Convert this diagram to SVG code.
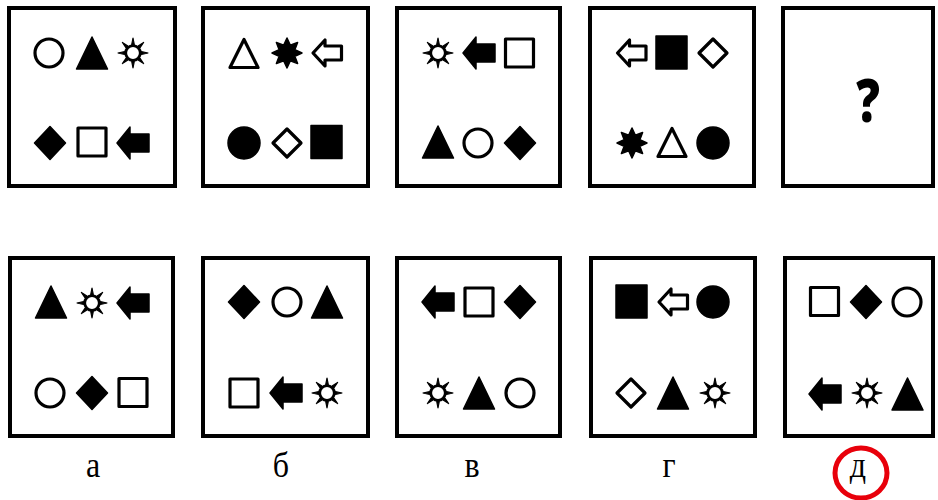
<svg xmlns="http://www.w3.org/2000/svg" xmlns:xlink="http://www.w3.org/1999/xlink" width="938" height="500" viewBox="0 0 938 500">
<style>
.box{fill:#fff;stroke:#000;stroke-width:4}
.o{fill:#fff;stroke:#000;stroke-width:3.2;stroke-linejoin:round}
.f{fill:#000;stroke:#000;stroke-width:1.5;stroke-linejoin:round}
.lbl{font-family:"Liberation Serif","Times New Roman",serif;font-size:32px;fill:#000;text-anchor:middle}
.q{font-family:"Open Sans","Liberation Sans",sans-serif;font-weight:800;font-size:60px;fill:#000;text-anchor:middle}
</style>
<defs>
<g id="circO"><circle r="14" class="o"/></g>
<g id="circF"><circle r="16" class="f"/></g>
<g id="triF"><polygon points="0,-16 15.5,16 -15.5,16" class="f"/></g>
<g id="triO"><polygon points="0,-13.5 14,14.5 -14,14.5" class="o"/></g>
<g id="sqO"><rect x="-14" y="-14" width="28" height="28" class="o"/></g>
<g id="sqF"><rect x="-15.5" y="-16.5" width="31" height="33" class="f"/></g>
<g id="diaF"><polygon points="0,-16.5 15.5,0 0,16.5 -15.5,0" class="f"/></g>
<g id="diaO"><polygon points="0,-14 14,0 0,14 -14,0" class="o"/></g>
<g id="arrF"><polygon points="-16,0 -3,-16 -3,-9 16,-9 16,9 -3,9 -3,16" class="f"/></g>
<g id="arrO"><polygon points="-14,0 -2,-13 -2,-7 14.5,-7 14.5,7 -2,7 -2,13" class="o"/></g>
<g id="sun"><path d="M8.5,-1.3L15,0L8.5,1.3ZM-8.5,-1.3L-15,0L-8.5,1.3ZM-1.3,8.5L0,15L1.3,8.5ZM-1.3,-8.5L0,-15L1.3,-8.5ZM5.1,6.9L10.6,10.6L6.9,5.1ZM-5.1,6.9L-10.6,10.6L-6.9,5.1ZM5.1,-6.9L10.6,-10.6L6.9,-5.1ZM-5.1,-6.9L-10.6,-10.6L-6.9,-5.1Z" fill="#000" stroke="#000" stroke-width="1.2" stroke-linejoin="round"/><circle r="7.3" fill="#fff" stroke="#000" stroke-width="2.8"/></g>
<g id="star"><polygon points="15,0 7.85,3.25 10.6,10.6 3.25,7.85 0,15 -3.25,7.85 -10.6,10.6 -7.85,3.25 -15,0 -7.85,-3.25 -10.6,-10.6 -3.25,-7.85 0,-15 3.25,-7.85 10.6,-10.6 7.85,-3.25" class="f"/><circle r="8"/></g>
</defs>

<g id="top1">
<rect class="box" x="9" y="8" width="166" height="178"/>
<use href="#circO" x="49" y="53"/><use href="#triF" x="92" y="53"/><use href="#sun" x="133" y="53"/>
<use href="#diaF" x="50" y="143"/><use href="#sqO" x="92" y="142"/><use href="#arrF" x="133" y="143"/>
</g>
<g id="top2">
<rect class="box" x="203" y="8" width="165" height="178"/>
<use href="#triO" x="244" y="53"/><use href="#star" x="287" y="53"/><use href="#arrO" x="327" y="53"/>
<use href="#circF" x="244" y="143"/><use href="#diaO" x="287" y="143"/><use href="#sqF" x="326.5" y="142"/>
</g>
<g id="top3">
<rect class="box" x="397" y="8" width="163" height="178"/>
<use href="#sun" x="438" y="53"/><use href="#arrF" x="479" y="53"/><use href="#sqO" x="519.5" y="53"/>
<use href="#triF" x="438" y="142"/><use href="#circO" x="478" y="143"/><use href="#diaF" x="520" y="143"/>
</g>
<g id="top4">
<rect class="box" x="590" y="8" width="164" height="178"/>
<use href="#arrO" x="631.5" y="53"/><use href="#sqF" x="671.5" y="52.5"/><use href="#diaO" x="713" y="53"/>
<use href="#star" x="632" y="143"/><use href="#triO" x="672" y="142"/><use href="#circF" x="713" y="143"/>
</g>
<g id="top5">
<rect class="box" x="783" y="8" width="150" height="178"/>
<text class="q" transform="translate(868,122) scale(0.78,1)">?</text>
</g>

<g id="optA">
<rect class="box" x="10" y="258" width="163" height="178"/>
<use href="#triF" x="51" y="302"/><use href="#sun" x="92" y="303"/><use href="#arrF" x="133" y="303"/>
<use href="#circO" x="50" y="393"/><use href="#diaF" x="92" y="393"/><use href="#sqO" x="133" y="392.5"/>
</g>
<g id="optB">
<rect class="box" x="203" y="258" width="165" height="178"/>
<use href="#diaF" x="244" y="302"/><use href="#circO" x="287" y="302"/><use href="#triF" x="327" y="302"/>
<use href="#sqO" x="244" y="393"/><use href="#arrF" x="286" y="393"/><use href="#sun" x="327" y="393"/>
</g>
<g id="optV">
<rect class="box" x="397" y="258" width="163" height="178"/>
<use href="#arrF" x="438" y="302"/><use href="#sqO" x="479" y="302"/><use href="#diaF" x="520" y="302"/>
<use href="#sun" x="438" y="393"/><use href="#triF" x="479" y="393"/><use href="#circO" x="520" y="393"/>
</g>
<g id="optG">
<rect class="box" x="591" y="258" width="164" height="178"/>
<use href="#sqF" x="631.5" y="301.5"/><use href="#arrO" x="673" y="302"/><use href="#circF" x="713" y="302"/>
<use href="#diaO" x="631" y="393"/><use href="#triF" x="673" y="393"/><use href="#sun" x="715" y="393"/>
</g>
<g id="optD">
<rect class="box" x="785" y="258" width="148" height="178"/>
<use href="#sqO" x="824.5" y="301.5"/><use href="#diaF" x="866" y="302"/><use href="#circO" x="907" y="302"/>
<use href="#arrF" x="825" y="394"/><use href="#sun" x="867" y="393"/><use href="#triF" x="907.5" y="394"/>
</g>

<g id="labels">
<text class="lbl" transform="translate(93,477) scale(1,1.12)">а</text>
<text class="lbl" transform="translate(281,477) scale(1,1.12)">б</text>
<text class="lbl" transform="translate(472,477) scale(1,1.12)">в</text>
<text class="lbl" transform="translate(669,477) scale(1,1.12)">г</text>
<text class="lbl" transform="translate(858,477) scale(1,1.12)">д</text>
<ellipse cx="861" cy="473" rx="26" ry="25" fill="none" stroke="#e8000b" stroke-width="5"/>
</g>
</svg>
